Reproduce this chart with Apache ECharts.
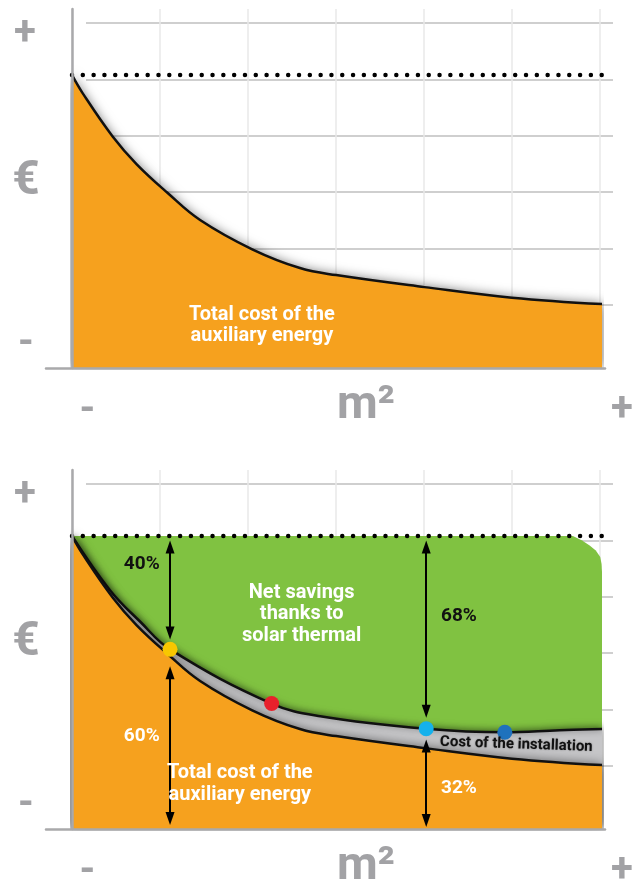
<!DOCTYPE html>
<html>
<head>
<meta charset="utf-8">
<script src="https://cdn.jsdelivr.net/npm/echarts@6/dist/echarts.min.js"></script>
<style>
  html, body { margin: 0; padding: 0; background: #ffffff; }
  #chart { width: 634px; height: 885px; }
</style>
</head>
<body>
<div id="chart"></div>
<script>
// Costs relative to the cost without solar (100), against collector area steps 0..6
const auxEnergyCost = [
  [0, 100], [0.12, 93.8], [0.46, 79.0], [0.73, 69.6], [1.08, 59.8], [1.45, 50.5],
  [2.04, 40.5], [2.58, 34.1], [2.99, 31.7], [3.99, 27.6], [4.98, 24.0], [6, 21.8]
];
const totalCostWithSolar = [
  [0, 100], [0.43, 81.5], [0.77, 70.8], [1.11, 61.3], [2.26, 42.8], [2.81, 38.5],
  [4.01, 34.2], [4.9, 33.0], [5.52, 33.7], [6, 34.1]
];
// upper edge of the savings region, with its rounded end
const savingsEdge = [
  [0, 100], [5.67, 100], [5.77, 98.5], [5.86, 96.7], [5.93, 95.0], [5.98, 92.8],
  [5.995, 90.4], [6, 87.7]
];
const referenceCost = [[0, 100], [6, 100]];

// Points on the total-cost curve that are highlighted (indices into totalCostWithSolar)
const markedSteps = [3, 4, 6, 7];

// Shares shown with double arrows: [step, from, to]
const arrowSpans = [[1.11, 96.2, 66.9], [1.11, 53.3, 3.6], [4.01, 96.2, 40.2], [4.01, 28.3, 2.9]];
const shareLabels = ['40%', '60%', '68%', '32%'];

const savingsText = 'Net savings\nthanks to\nsolar thermal';
const auxText = 'Total cost of the\nauxiliary energy';
const installText = 'Cost of the installation';
const yCaptions = ['+', '€', '-'];
const xCaptions = ['-', 'm²', '+'];

const dotColors = ['#F8C700', '#E8212B', '#15B1EC', '#1F72BD'];
const ORANGE = '#F6A11E', GREEN = '#80C241', GRAY_BAND = '#c6c6c8';
const AXIS_GRAY = '#a9a9ab', CAPTION_GRAY = '#a2a2a5';
const FONT = 'Roboto';
const OFFSET = 461;   // vertical distance between the two panels
const SMOOTH = 0.4;

const grids = [], xAxes = [], yAxes = [], series = [], graphics = [];

function addPanel(o) {
  const b = grids.length;
  grids.push(
    { left: 72, top: 9 + o, width: 528, height: 359 },   // vertical grid lines
    { left: 86, top: 23 + o, width: 527, height: 282 },  // horizontal grid lines
    { left: 72, top: 9 + o, width: 530, height: 359 },   // plotting area
    { left: 46, top: 9 + o, width: 559, height: 359 }    // baseline
  );
  const hidden = { axisLine: { show: false }, axisTick: { show: false }, axisLabel: { show: false }, splitLine: { show: false } };
  xAxes.push(
    Object.assign({}, hidden, { gridIndex: b, type: 'value', min: 0, max: 6, interval: 1,
      splitLine: { show: true, lineStyle: { color: '#e9e9e9', width: 1.5 } } }),
    Object.assign({}, hidden, { gridIndex: b + 1, type: 'value', min: 0, max: 1 }),
    Object.assign({}, hidden, { gridIndex: b + 2, type: 'value', min: 0, max: 6 }),
    Object.assign({}, hidden, { gridIndex: b + 3, type: 'value', min: 0, max: 1, z: 10,
      axisLine: { show: true, onZero: false, lineStyle: { color: AXIS_GRAY, width: 2.5 } } })
  );
  yAxes.push(
    Object.assign({}, hidden, { gridIndex: b, type: 'value', min: 0, max: 1 }),
    Object.assign({}, hidden, { gridIndex: b + 1, type: 'value', min: 0, max: 5, interval: 1,
      splitLine: { show: true, lineStyle: { color: '#bfbfbf', width: 1.5 } } }),
    Object.assign({}, hidden, { gridIndex: b + 2, type: 'value', min: 0, max: 122.5, z: 10,
      axisLine: { show: true, onZero: false, lineStyle: { color: AXIS_GRAY, width: 2.5 } } }),
    Object.assign({}, hidden, { gridIndex: b + 3, type: 'value', min: 0, max: 1 })
  );
  // axis captions
  const cap = (t, x, y, size) => graphics.push({
    type: 'text', x: x, y: y + o, z: 20,
    style: { text: t, fill: CAPTION_GRAY, font: 'bold ' + size + 'px ' + FONT,
      textAlign: 'center', textVerticalAlign: 'middle', align: 'center', verticalAlign: 'middle' }
  });
  cap(yCaptions[0], 25, 34, 40);
  cap(yCaptions[1], 26, 182, 48);
  cap(yCaptions[2], 26, 344, 40);
  cap(xCaptions[0], 87.5, 411, 40);
  cap(xCaptions[1], 366, 406, 47);
  cap(xCaptions[2], 622, 410, 40);
  return b + 2;
}

const upperIdx = addPanel(0);
const lowerIdx = addPanel(OFFSET);

const curveLine = { color: '#111', width: 2.5 };
const orangeArea = { color: ORANGE, opacity: 1, shadowBlur: 12, shadowColor: 'rgba(0,0,0,0.6)' };
const dotted = { color: '#000', width: 4.5, type: [0.01, 10.8], cap: 'round' };

function textLabel(color, size, extra) {
  return Object.assign({ show: true, position: 'inside', formatter: '{b}', color: color,
    fontFamily: FONT, fontWeight: 'bold', fontSize: size }, extra || {});
}

// ---- upper panel ----
series.push(
  { type: 'line', xAxisIndex: upperIdx, yAxisIndex: upperIdx, data: auxEnergyCost, smooth: SMOOTH,
    symbol: 'none', lineStyle: curveLine, areaStyle: orangeArea, z: 3 },
  { type: 'line', xAxisIndex: upperIdx, yAxisIndex: upperIdx, data: referenceCost, symbol: 'none',
    lineStyle: dotted, z: 5 },
  { type: 'scatter', xAxisIndex: upperIdx, yAxisIndex: upperIdx, symbolSize: 0, z: 7,
    itemStyle: { opacity: 1 },
    data: [{ name: auxText, value: [2.15, 14.5] }],
    label: textLabel('#fff', 20, { lineHeight: 21.5 }) }
);

// ---- lower panel ----
series.push(
  { type: 'line', xAxisIndex: lowerIdx, yAxisIndex: lowerIdx, data: savingsEdge, smooth: false,
    symbol: 'none', lineStyle: { width: 0 },
    areaStyle: { color: GREEN, opacity: 1 }, z: 1 },
  { type: 'line', xAxisIndex: lowerIdx, yAxisIndex: lowerIdx, data: totalCostWithSolar, smooth: SMOOTH,
    symbol: 'none',
    lineStyle: { color: '#111', width: 2.5, shadowBlur: 6, shadowColor: 'rgba(0,0,0,0.45)' },
    areaStyle: { color: GRAY_BAND, opacity: 1, shadowBlur: 10, shadowColor: 'rgba(0,0,0,0.55)' }, z: 2 },
  { type: 'line', xAxisIndex: lowerIdx, yAxisIndex: lowerIdx, data: auxEnergyCost, smooth: SMOOTH,
    symbol: 'none', lineStyle: curveLine, areaStyle: orangeArea, z: 3 },
  { type: 'line', xAxisIndex: lowerIdx, yAxisIndex: lowerIdx, data: referenceCost, symbol: 'none',
    lineStyle: dotted, z: 5,
    markLine: {
      silent: true, animation: false, symbol: ['triangle', 'triangle'], symbolSize: [9, 13],
      lineStyle: { color: '#000', width: 2, type: 'solid' }, label: { show: false },
      data: arrowSpans.map(s => [{ coord: [s[0], s[1]] }, { coord: [s[0], s[2]] }])
    } },
  { type: 'scatter', xAxisIndex: lowerIdx, yAxisIndex: lowerIdx, symbolSize: 15, z: 6,
    data: markedSteps.map((k, i) => ({ value: totalCostWithSolar[k], itemStyle: { color: dotColors[i], opacity: 1 } })) },
  { type: 'scatter', xAxisIndex: lowerIdx, yAxisIndex: lowerIdx, symbolSize: 0, z: 7,
    itemStyle: { opacity: 1 },
    data: [
      { name: shareLabels[0], value: [0.79, 90.2], label: textLabel('#111', 19) },
      { name: shareLabels[1], value: [0.79, 31.8], label: textLabel('#fff', 19) },
      { name: shareLabels[2], value: [4.38, 72.7], label: textLabel('#111', 19) },
      { name: shareLabels[3], value: [4.38, 14.0], label: textLabel('#fff', 19) },
      { name: savingsText, value: [2.60, 73.3], label: textLabel('#fff', 20, { lineHeight: 21.5 }) },
      { name: auxText, value: [1.90, 15.4], label: textLabel('#fff', 20, { lineHeight: 21.5 }) },
      { name: installText, value: [5.03, 28.8], label: textLabel('#111', 15,
        { rotate: -2, textShadowBlur: 2, textShadowColor: 'rgba(0,0,0,0.35)' }) }
    ] }
);

const chart = echarts.init(document.getElementById('chart'), null, { renderer: 'canvas' });
chart.setOption({
  animation: false,
  backgroundColor: '#ffffff',
  grid: grids, xAxis: xAxes, yAxis: yAxes, series: series, graphic: graphics
});
</script>
</body>
</html>
